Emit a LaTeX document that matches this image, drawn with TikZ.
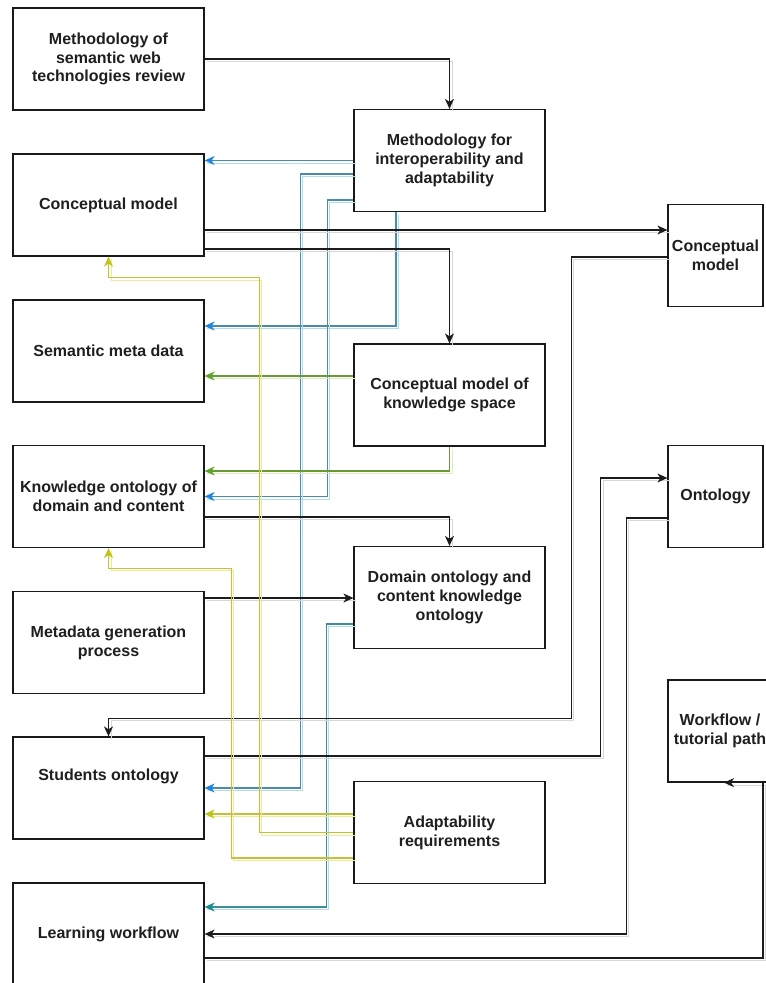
\documentclass[tikz,border=0pt]{standalone}
\usepackage{fontspec}
\setmainfont{Liberation Sans}
\usetikzlibrary{arrows.meta,calc}
\definecolor{lineblue}{HTML}{4A8CA8}
\definecolor{arrowblue}{HTML}{1E86DC}
\definecolor{shblue}{HTML}{B4DDEB}
\definecolor{lineteal}{HTML}{3E8E98}
\definecolor{arrowteal}{HTML}{15908E}
\definecolor{linegreen}{HTML}{6A9A36}
\definecolor{arrowgreen}{HTML}{5FA52A}
\definecolor{shgreen}{HTML}{DCEDBE}
\definecolor{lineyellow}{HTML}{C2C232}
\definecolor{arrowyellow}{HTML}{BCC418}
\definecolor{shyellow}{HTML}{EEEA9C}
\definecolor{lineblack}{HTML}{1C1C1C}
\definecolor{shgray}{HTML}{D8D8D8}
\begin{document}
\begin{tikzpicture}[x=1pt,y=-1pt,
  box/.style={draw=black!90, line width=1.2pt, minimum width=191pt, minimum height=102pt,
    inner sep=2pt, align=center, text=black!88,
    font=\bfseries\fontsize{16}{18.8}\selectfont},
  narrowbox/.style={box, minimum width=95pt},
  conn/.style={line width=1.1pt},
  blk/.style={conn, draw=lineblack, -{Stealth[length=10pt,width=9pt,inset=3pt]},
    preaction={-, draw=shgray, line width=1pt, transform canvas={shift={(2.5pt,-2.5pt)}}}},
  bl/.style={conn, draw=lineblue, -{Stealth[length=10pt,width=9pt,inset=3pt,color=arrowblue]},
    preaction={-, draw=shblue, line width=1pt, transform canvas={shift={(2.5pt,-2.5pt)}}}},
  tl/.style={conn, draw=lineteal, -{Stealth[length=10pt,width=9pt,inset=3pt,color=arrowteal]},
    preaction={-, draw=shblue, line width=1pt, transform canvas={shift={(2.5pt,-2.5pt)}}}},
  gr/.style={conn, draw=linegreen, -{Stealth[length=10pt,width=9pt,inset=3pt,color=arrowgreen]},
    preaction={-, draw=shgreen, line width=1pt, transform canvas={shift={(2.5pt,-2.5pt)}}}},
  yl/.style={conn, line width=1.2pt, draw=lineyellow, -{Stealth[length=10pt,width=9pt,inset=3pt,color=arrowyellow]},
    preaction={-, draw=shyellow, line width=1pt, transform canvas={shift={(2.5pt,-2.5pt)}}}}
]
\useasboundingbox[fill=white] (0,0) rectangle (766,983);

% left column
\node[box] (A) at (108.5,59) {Methodology of\\semantic web\\technologies review};
\node[box] (B) at (108.5,205) {Conceptual model};
\node[box] (C) at (108.5,351) {Semantic meta data};
\node[box] (D) at (108.5,496.5) {Knowledge ontology of\\domain and content};
\node[box] (E) at (108.5,642.5) {Metadata generation\\process};
\node[box, text depth=27pt] (F) at (108.5,788) {Students ontology};
\node[box] (G) at (108.5,934) {Learning workflow};
% middle column
\node[box] (H) at (449.5,160.5) {Methodology for\\interoperability and\\adaptability};
\node[box] (I) at (449.5,395) {Conceptual model of\\knowledge space};
\node[box] (J) at (449.5,597.5) {Domain ontology and\\content knowledge\\ontology};
\node[box] (K) at (449.5,832.5) {Adaptability\\requirements};
% right column
\node[narrowbox] (L) at (715.5,255.5) {Conceptual\\model};
\node[narrowbox] (M) at (715.5,496.5) {Ontology};
\node[box, minimum width=104pt] (N) at (720,731) {Workflow /\\tutorial path};

% connectors
\draw[blk] (A.east) -| (H.north);
\draw[bl] (H.west) -- (H.west -| B.east);
\draw[bl] ([xshift=-53.5pt]H.south) |- ([yshift=25pt]C.east);
\draw[bl] ([yshift=-39.5pt]H.west) -- ++(-26,0) |- (D.east);
\draw[bl] ([yshift=-13.5pt]H.west) -- ++(-53,0) |- (F.east);
\draw[tl] ([yshift=-26.5pt]J.west) -- ++(-27,0) |- ([yshift=27pt]G.east);
\draw[gr] ([yshift=19pt]I.west) -- ([yshift=19pt]I.west -| C.east);
\draw[gr] (I.south) |- ([yshift=25.5pt]D.east);
\draw[blk] ([yshift=-25pt]B.east) -- ([yshift=-25pt]B.east -| L.west);
\draw[blk] ([yshift=-44pt]B.east) -| (I.north);
\draw[blk] ([yshift=-20.5pt]D.east) -| (J.north);
\draw[blk] ([yshift=44.5pt]E.east) -- ([yshift=44.5pt]E.east -| J.west);
\draw[blk] ([yshift=-1.5pt]L.west) -- ++(-96,0) |- ([yshift=18pt]F.north) -- (F.north);
\draw[blk] ([yshift=32pt]F.east) -- ++(396,0) |- ([yshift=18.5pt]M.west);
\draw[blk] ([yshift=-21.5pt]M.west) -- ++(-41,0) |- (G.east);
\draw[blk] ([yshift=-24pt]G.east) -| ([xshift=43pt]N.south) -- ([xshift=4pt]N.south);
\draw[yl] ([yshift=18.5pt]K.west) -- ([yshift=18.5pt]K.west -| F.east);
\draw[yl] (K.west) -- ++(-94,0) |- ([yshift=-21pt]B.south) -- (B.south);
\draw[yl] ([yshift=-25.5pt]K.west) -- ++(-122,0) |- ([yshift=-20pt]D.south) -- (D.south);
\end{tikzpicture}
\end{document}
